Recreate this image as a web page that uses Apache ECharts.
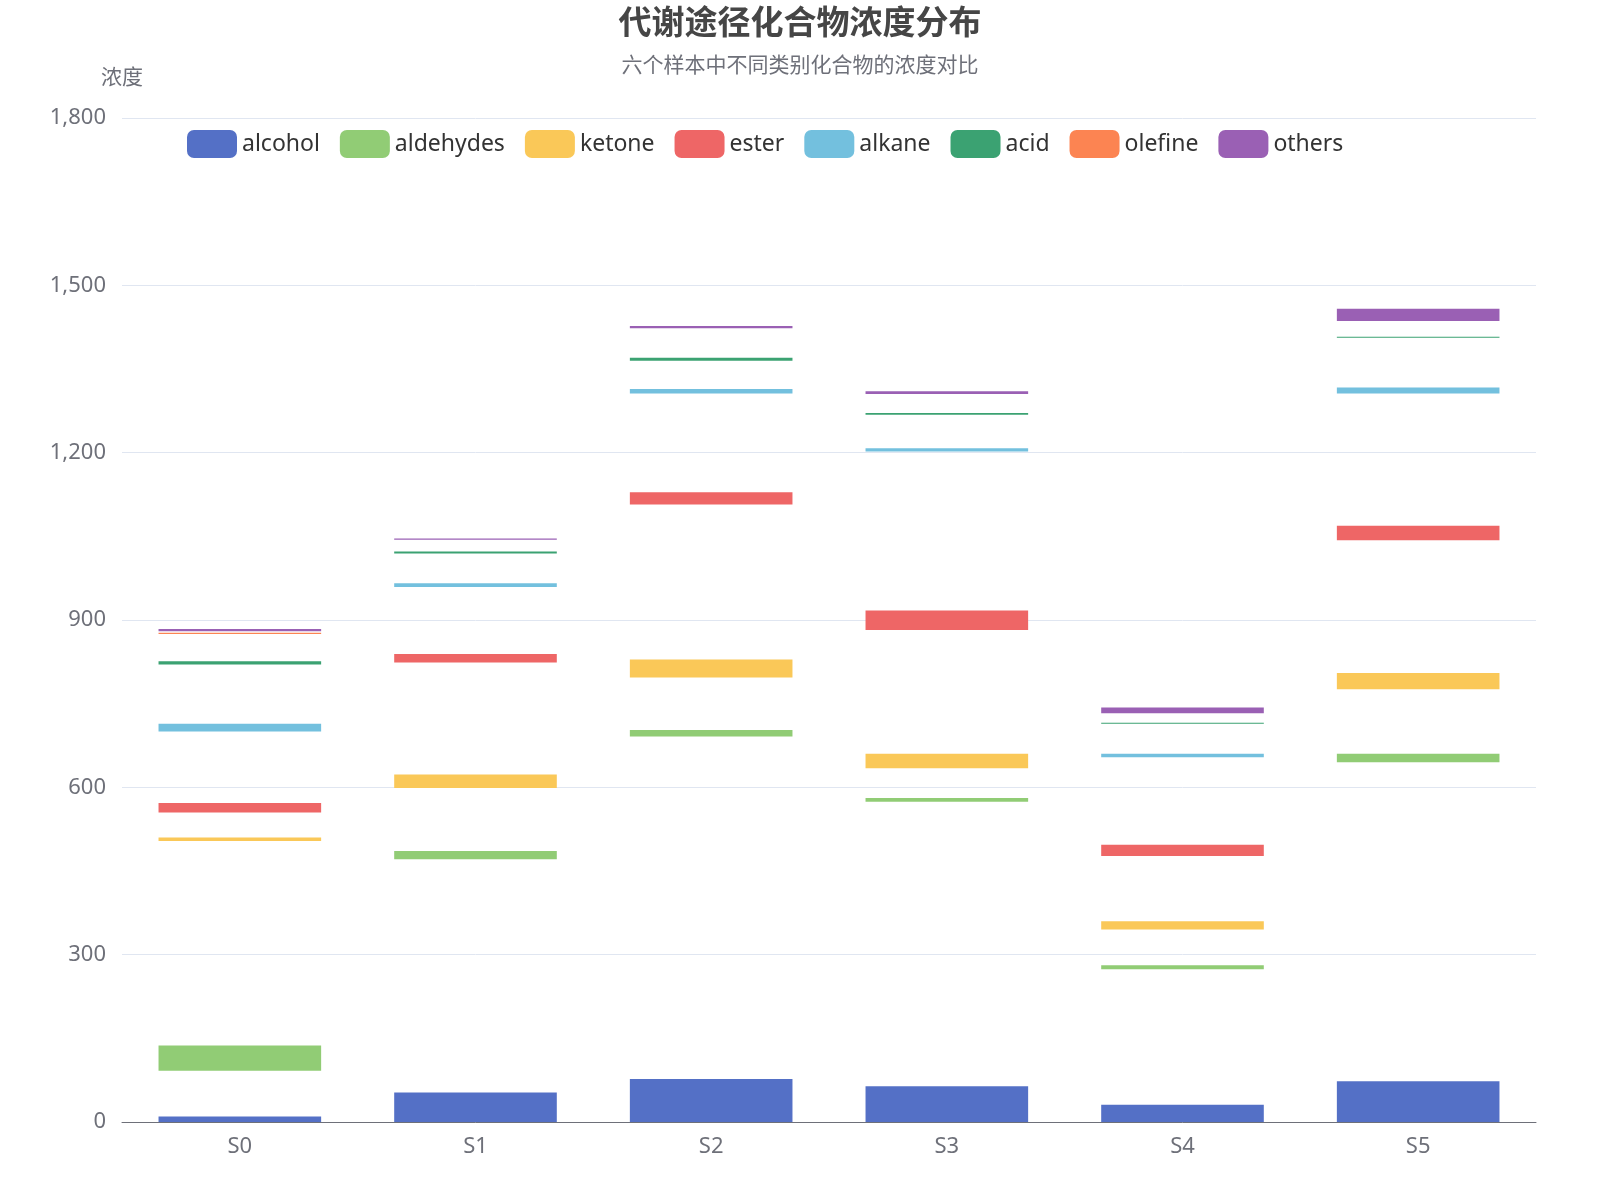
<!DOCTYPE html>
<html><head><meta charset="utf-8">
<script src="https://cdn.jsdelivr.net/npm/echarts@6/dist/echarts.min.js"></script>
<style>html,body{margin:0;padding:0;background:#fff}#c{width:1600px;height:1200px}</style>
</head><body><div id="c"></div>
<script>
var categories = ['S0','S1','S2','S3','S4','S5'];
var seriesNames = ['alcohol','aldehydes','ketone','ester','alkane','acid','olefine','others'];
var colors = ['#5470c6','#91cc75','#fac858','#ee6666','#73c0de','#3ba272','#fc8452','#9a60b4'];
// lower and upper bound of each visible segment per sample
var alcoholLow   = [0,0,0,0,0,0];        var alcoholHigh   = [10,53,77,64,31,73];
var aldehydesLow = [92,471,691,574,274,645]; var aldehydesHigh = [137,486,703,581,281,660];
var ketoneLow    = [504,599,797,634,345,776]; var ketoneHigh    = [510,623,829,660,360,805];
var esterLow     = [555,824,1107,882,477,1043]; var esterHigh   = [572,839,1129,917,497,1069];
var alkaneLow    = [700,959,1306,1202,654,1306]; var alkaneHigh = [714,966,1314,1208,660,1317];
var acidLow      = [820,1019,1365,1268,714,1406]; var acidHigh  = [826,1023,1370,1271,716,1408];
var olefineLow   = [875,1043,1423,1305,733,1436]; var olefineHigh = [877,1043,1423,1305,733,1436];
var othersLow    = [880,1044,1423,1305,733,1436]; var othersHigh  = [884,1046,1427,1310,743,1458];

var lows = [alcoholLow,aldehydesLow,ketoneLow,esterLow,alkaneLow,acidLow,olefineLow,othersLow];
var highs = [alcoholHigh,aldehydesHigh,ketoneHigh,esterHigh,alkaneHigh,acidHigh,olefineHigh,othersHigh];

var series = [];
seriesNames.forEach(function(n, i){
  var gap = categories.map(function(c, j){ return lows[i][j] - (i === 0 ? 0 : highs[i-1][j]); });
  var val = categories.map(function(c, j){ return highs[i][j] - lows[i][j]; });
  series.push({name:'_gap'+i, type:'bar', stack:'s', barWidth:'69%', silent:true,
    itemStyle:{color:'transparent'}, data:gap});
  series.push({name:n, type:'bar', stack:'s', barWidth:'69%', itemStyle:{color:colors[i]}, data:val});
});

var chart = echarts.init(document.getElementById('c'));
chart.setOption({
  animation:false,
  textStyle:{fontFamily:'Noto Sans, Noto Sans CJK SC, sans-serif'},
  title:{text:'代谢途径化合物浓度分布', subtext:'六个样本中不同类别化合物的浓度对比', left:'center', top:0,
    textStyle:{fontSize:33, fontWeight:'bold', color:'#464646', fontFamily:'Noto Sans CJK SC'},
    subtextStyle:{fontSize:21, color:'#6e7079', fontFamily:'Noto Sans CJK SC'}, itemGap:16},
  legend:{data:seriesNames, top:125, left:182, itemWidth:50, itemHeight:28, itemGap:20,
    textStyle:{fontSize:23, color:'#333'}},
  grid:{left:122, right:64, top:118, bottom:78},
  xAxis:{type:'category', data:categories,
    axisLine:{lineStyle:{color:'#6e7079'}}, axisTick:{length:7},
    axisLabel:{fontSize:22, color:'#6e7079', margin:14}},
  yAxis:{type:'value', min:0, max:1800, interval:300, name:'浓度',
    nameTextStyle:{fontSize:21, color:'#6e7079', padding:[0,0,16,0], fontFamily:'Noto Sans CJK SC'},
    axisLabel:{fontSize:22, color:'#6e7079', margin:16},
    splitLine:{lineStyle:{color:'#e0e6f1'}}},
  series:series
});
</script></body></html>
